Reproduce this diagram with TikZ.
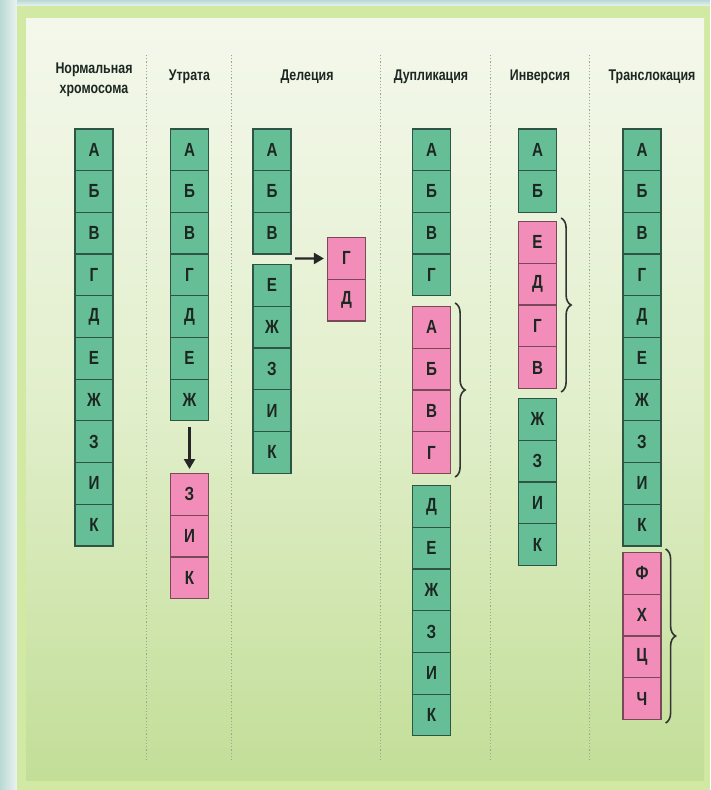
\documentclass[tikz,border=0pt]{standalone}
\usepackage{fontspec}
\usepackage{graphicx}
\setmainfont{Liberation Sans}
\usetikzlibrary{decorations.pathreplacing,arrows.meta}
\definecolor{gfill}{HTML}{66BE97}
\definecolor{gborder}{HTML}{2E5444}
\definecolor{pfill}{HTML}{F28DBA}
\definecolor{pborder}{HTML}{7A4858}
\definecolor{txt}{HTML}{1C2722}
\definecolor{frame}{HTML}{D2E9A4}
\definecolor{paneltop}{HTML}{F4F8EC}
\definecolor{panelmid}{HTML}{E2EFCC}
\definecolor{panelbot}{HTML}{C2DE97}
\definecolor{bgout}{HTML}{EAF3F1}
\definecolor{bgteal}{HTML}{B9D9D4}
\definecolor{sepcol}{HTML}{9AA58C}
\newcommand\cond[1]{\scalebox{0.8}[1]{#1}}
\newcommand\chromcol[5]{%
  \foreach \t [count=\i] in {#5}
    \node[#4] (#1\i) at (#2,{#3+(\i-1)*41.7}) {\cond{\t}};}
\tikzset{
  boxbase/.style={line width=1.2pt, minimum width=38pt, minimum height=41.7pt,
    inner sep=0pt, anchor=north, text=txt,
    font=\bfseries\fontsize{19}{19}\selectfont},
  gbox/.style={boxbase, draw=gborder, fill=gfill},
  pbox/.style={boxbase, draw=pborder, fill=pfill},
  header/.style={align=center, text=txt, font=\bfseries\fontsize{15.5}{20}\selectfont},
  sepline/.style={draw=sepcol, line width=0.7pt, dash pattern=on 1.2pt off 2pt},
  arr/.style={draw=black!85, line width=2.2pt, -{Triangle[length=10pt,width=11pt]}},
  bracestyle/.style={draw=black!80, line width=1.6pt,
    decorate, decoration={brace, amplitude=10pt}},
}
\begin{document}
\begin{tikzpicture}[x=1pt,y=-1pt]
\useasboundingbox (0,0) rectangle (710,790);
% background
\fill[bgout] (0,0) rectangle (710,790);
\shade[left color=bgteal, right color=bgout] (0,0) rectangle (17,790);
\shade[top color=bgteal, bottom color=bgout] (17,0) rectangle (710,6);
\fill[frame] (17,6) rectangle (710,790);
\shade[top color=paneltop, bottom color=panelbot, middle color=panelmid] (26,18) rectangle (704,780);
% separators
\foreach \sx in {146,231,380,490,589}
  \draw[sepline] (\sx,55) -- (\sx,762);
% headers
\node[header] (h1) at (94,80) {\cond{Нормальная}\\\cond{хромосома}};
\node[header] (h2) at (189.5,77) {\cond{Утрата}};
\node[header] (h3) at (307,77) {\cond{Делеция}};
\node[header] (h4) at (431,77) {\cond{Дупликация}};
\node[header] (h5) at (540,77) {\cond{Инверсия}};
\node[header] (h6) at (652,77) {\cond{Транслокация}};
% column 1
\chromcol{n}{94}{128.3}{gbox}{А,Б,В,Г,Д,Е,Ж,З,И,К}
% column 2
\chromcol{u}{189.5}{128.3}{gbox}{А,Б,В,Г,Д,Е,Ж}
\chromcol{up}{189.5}{473}{pbox}{З,И,К}
\draw[arr] ([yshift=-6pt]u7.south) -- ([yshift=4pt]up1.north);
% column 3
\chromcol{d}{272}{128.3}{gbox}{А,Б,В}
\chromcol{de}{272}{264}{gbox}{Е,Ж,З,И,К}
\chromcol{dp}{346.5}{237}{pbox}{Г,Д}
\coordinate (dgap) at (295,258.5);
\draw[arr] (dgap) -- ([xshift=-3pt]dp1.west);
% column 4
\chromcol{du}{431.5}{128.3}{gbox}{А,Б,В,Г}
\chromcol{dup}{431.5}{306}{pbox}{А,Б,В,Г}
\chromcol{dul}{431.5}{485}{gbox}{Д,Е,Ж,З,И,К}
\draw[bracestyle] ([xshift=4pt,yshift=3pt]dup1.north east) -- ([xshift=4pt,yshift=-3pt]dup4.south east);
% column 5
\chromcol{in}{537.5}{128.3}{gbox}{А,Б}
\chromcol{inp}{537.5}{221}{pbox}{Е,Д,Г,В}
\chromcol{inl}{537.5}{398}{gbox}{Ж,З,И,К}
\draw[bracestyle] ([xshift=4pt,yshift=3pt]inp1.north east) -- ([xshift=4pt,yshift=-3pt]inp4.south east);
% column 6
\chromcol{tr}{642}{128.3}{gbox}{А,Б,В,Г,Д,Е,Ж,З,И,К}
\chromcol{trp}{642}{552}{pbox}{Ф,Х,Ц,Ч}
\draw[bracestyle] ([xshift=4pt,yshift=3pt]trp1.north east) -- ([xshift=4pt,yshift=-3pt]trp4.south east);
\end{tikzpicture}
\end{document}
